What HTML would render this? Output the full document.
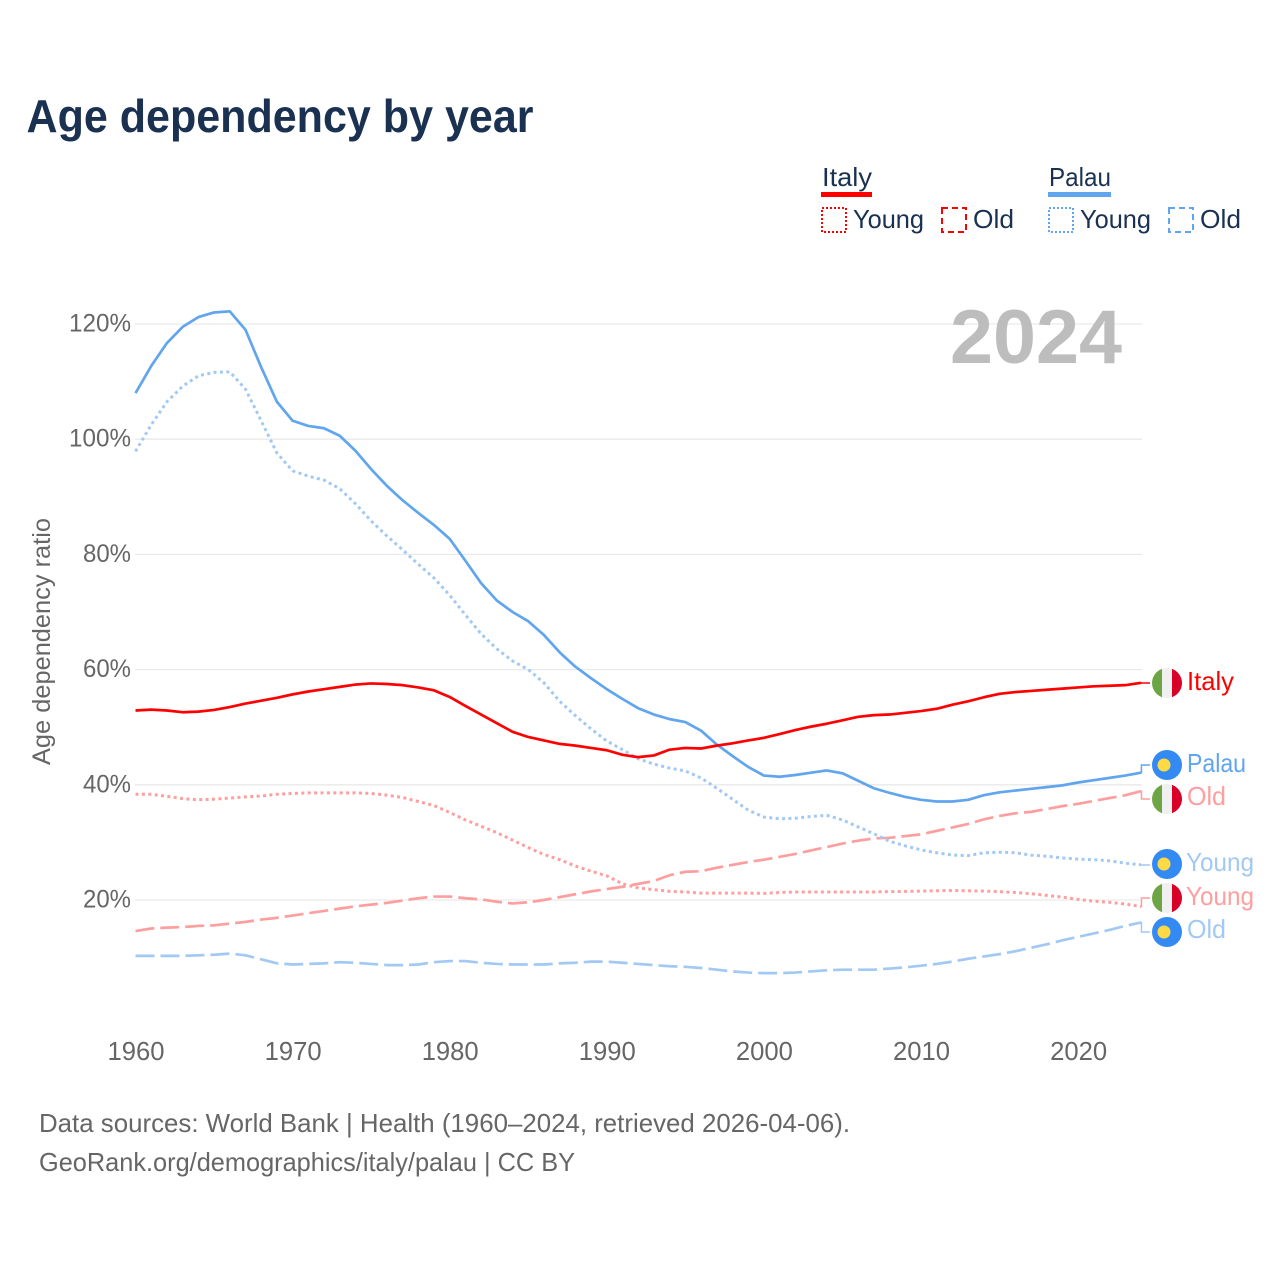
<!DOCTYPE html>
<html lang="en">
<head>
<meta charset="utf-8">
<title>Age dependency by year</title>
<style>
html,body{margin:0;padding:0;background:#fff;width:1280px;height:1280px;overflow:hidden}
svg{display:block}
text{font-family:"Liberation Sans",sans-serif}
</style>
</head>
<body>
<svg id="chart" xmlns="http://www.w3.org/2000/svg" width="1280" height="1280" viewBox="0 0 1280 1280">
  <rect x="0" y="0" width="1280" height="1280" fill="#fff"/>
  <text x="26.5" y="132" font-size="46" font-weight="700" fill="#1a3152" textLength="507" lengthAdjust="spacingAndGlyphs">Age dependency by year</text>

  <g font-size="26" fill="#1a3152">
    <text x="822" y="186" textLength="50" lengthAdjust="spacingAndGlyphs">Italy</text>
    <rect x="821" y="192" width="51" height="5" fill="#ff0000"/>
    <text x="1049" y="186" textLength="62" lengthAdjust="spacingAndGlyphs">Palau</text>
    <rect x="1048" y="192" width="63" height="5" fill="#60a5ee"/>

    <g>
      <rect x="822" y="208" width="24" height="24" fill="none" stroke="#ff0000" stroke-width="2" stroke-dasharray="2 2"/>
      <text x="853" y="228" textLength="71" lengthAdjust="spacingAndGlyphs">Young</text>
    </g>
    <g>
      <rect x="942" y="208" width="24" height="24" fill="none" stroke="#ff0000" stroke-width="2" stroke-dasharray="6 4"/>
      <text x="973" y="228" textLength="41" lengthAdjust="spacingAndGlyphs">Old</text>
    </g>
    <g>
      <rect x="1049" y="208" width="24" height="24" fill="none" stroke="#60a5ee" stroke-width="2" stroke-dasharray="2 2"/>
      <text x="1080" y="228" textLength="71" lengthAdjust="spacingAndGlyphs">Young</text>
    </g>
    <g>
      <rect x="1169" y="208" width="24" height="24" fill="none" stroke="#60a5ee" stroke-width="2" stroke-dasharray="6 4"/>
      <text x="1200" y="228" textLength="41" lengthAdjust="spacingAndGlyphs">Old</text>
    </g>
  </g>

  <g id="grid"></g>
  <g id="yticks"></g>
  <g id="xticks"></g>

  <text transform="translate(50,765) rotate(-90)" font-size="25" fill="#666" textLength="247" lengthAdjust="spacingAndGlyphs">Age dependency ratio</text>
  <text x="950" y="363" font-size="76" font-weight="700" fill="#bdbdbd" textLength="172" lengthAdjust="spacingAndGlyphs">2024</text>

  <g id="connectors"></g>
  <g id="series"></g>

  <g font-size="26">
    <g>
      <clipPath id="clip-a"><circle cx="1167" cy="683" r="15"/></clipPath>
      <g clip-path="url(#clip-a)">
        <rect x="1152" y="668" width="10" height="30" fill="#6da544"/><rect x="1162" y="668" width="10" height="30" fill="#f0f0f0"/><rect x="1172" y="668" width="10" height="30" fill="#d80027"/>
      </g>
      <text x="1187" y="690" fill="#ff0000" textLength="47" lengthAdjust="spacingAndGlyphs">Italy</text>
    </g>
    <g>
      <circle cx="1167" cy="765" r="15" fill="#338af3"/>
      <circle cx="1164" cy="765" r="6.5" fill="#ffda44"/>
      <text x="1187" y="772" fill="#60a5ee" textLength="59" lengthAdjust="spacingAndGlyphs">Palau</text>
    </g>
    <g>
      <clipPath id="clip-b"><circle cx="1167" cy="799" r="15"/></clipPath>
      <g clip-path="url(#clip-b)">
        <rect x="1152" y="784" width="10" height="30" fill="#6da544"/><rect x="1162" y="784" width="10" height="30" fill="#f0f0f0"/><rect x="1172" y="784" width="10" height="30" fill="#d80027"/>
      </g>
      <text x="1187" y="805" fill="#ff9e9e" textLength="39" lengthAdjust="spacingAndGlyphs">Old</text>
    </g>
    <g>
      <circle cx="1167" cy="864" r="15" fill="#338af3"/>
      <circle cx="1164" cy="864" r="6.5" fill="#ffda44"/>
      <text x="1186" y="871" fill="#a2c9f3" textLength="68" lengthAdjust="spacingAndGlyphs">Young</text>
    </g>
    <g>
      <clipPath id="clip-c"><circle cx="1167" cy="898" r="15"/></clipPath>
      <g clip-path="url(#clip-c)">
        <rect x="1152" y="883" width="10" height="30" fill="#6da544"/><rect x="1162" y="883" width="10" height="30" fill="#f0f0f0"/><rect x="1172" y="883" width="10" height="30" fill="#d80027"/>
      </g>
      <text x="1186" y="905" fill="#ff9e9e" textLength="68" lengthAdjust="spacingAndGlyphs">Young</text>
    </g>
    <g>
      <circle cx="1167" cy="932" r="15" fill="#338af3"/>
      <circle cx="1164" cy="932" r="6.5" fill="#ffda44"/>
      <text x="1187" y="938" fill="#a2c9f3" textLength="39" lengthAdjust="spacingAndGlyphs">Old</text>
    </g>
  </g>

  <g font-size="26" fill="#666">
    <text x="39" y="1132" textLength="811" lengthAdjust="spacingAndGlyphs">Data sources: World Bank | Health (1960–2024, retrieved 2026-04-06).</text>
    <text x="39" y="1171" textLength="536" lengthAdjust="spacingAndGlyphs">GeoRank.org/demographics/italy/palau | CC BY</text>
  </g>
</svg>
<script>
const startYear = 1960;
const xTickYears = [1960, 1970, 1980, 1990, 2000, 2010, 2020];
const yTickValues = [20, 40, 60, 80, 100, 120];

const palauTotal = [108.0,112.7,116.7,119.5,121.2,122.0,122.2,119.0,112.5,106.5,103.2,102.3,101.9,100.6,98.0,94.8,91.9,89.4,87.2,85.1,82.7,78.9,75.0,72.0,70.0,68.4,66.0,63.0,60.5,58.5,56.6,54.9,53.3,52.2,51.4,50.9,49.4,47.0,45.0,43.1,41.6,41.4,41.7,42.1,42.5,42.0,40.7,39.4,38.6,37.9,37.4,37.1,37.1,37.4,38.2,38.7,39.0,39.3,39.6,39.9,40.4,40.8,41.2,41.6,42.1];
const palauYoung = [97.9,102.5,106.5,109.2,111.0,111.6,111.7,108.7,103.2,97.6,94.5,93.6,92.9,91.4,88.8,85.8,83.2,80.8,78.3,75.9,72.9,69.5,66.2,63.6,61.5,60.0,57.7,54.5,52.0,49.7,47.6,46.1,44.5,43.6,42.9,42.4,41.2,39.4,37.5,35.6,34.4,34.1,34.2,34.5,34.7,33.9,32.7,31.5,30.2,29.4,28.7,28.2,27.8,27.7,28.2,28.3,28.2,27.8,27.6,27.3,27.1,27.0,26.8,26.4,26.1];
const palauOld = [10.3,10.3,10.3,10.3,10.4,10.5,10.7,10.4,9.7,9.0,8.8,8.9,9.0,9.2,9.1,8.9,8.7,8.7,8.8,9.2,9.4,9.4,9.1,8.9,8.8,8.8,8.8,9.0,9.1,9.3,9.3,9.1,8.9,8.7,8.5,8.4,8.2,7.9,7.6,7.4,7.3,7.3,7.4,7.6,7.8,7.9,7.9,7.9,8.1,8.3,8.6,8.9,9.3,9.8,10.2,10.6,11.1,11.7,12.3,13.0,13.6,14.2,14.8,15.5,16.1];
const italyTotal = [52.9,53.05,52.9,52.6,52.7,53.0,53.5,54.1,54.6,55.1,55.7,56.2,56.6,57.0,57.4,57.6,57.5,57.3,56.9,56.4,55.25,53.7,52.2,50.7,49.2,48.3,47.7,47.1,46.8,46.4,46.0,45.2,44.8,45.1,46.1,46.4,46.3,46.8,47.2,47.7,48.15,48.8,49.5,50.1,50.6,51.2,51.8,52.1,52.2,52.5,52.8,53.2,53.9,54.5,55.2,55.8,56.1,56.3,56.5,56.7,56.9,57.1,57.2,57.3,57.7];
const italyYoung = [38.35,38.35,38.0,37.6,37.4,37.5,37.7,37.9,38.05,38.35,38.5,38.6,38.6,38.6,38.6,38.5,38.2,37.8,37.1,36.4,35.2,33.9,32.8,31.7,30.4,29.1,27.9,27.0,25.9,25.0,24.2,22.8,22.1,21.8,21.5,21.4,21.2,21.2,21.2,21.2,21.15,21.3,21.4,21.4,21.4,21.4,21.4,21.4,21.45,21.5,21.55,21.6,21.65,21.6,21.55,21.45,21.3,21.1,20.8,20.5,20.1,19.8,19.6,19.3,18.85];
const italyOld = [14.6,15.05,15.2,15.3,15.5,15.6,15.9,16.2,16.6,16.9,17.3,17.7,18.1,18.5,18.9,19.2,19.5,19.9,20.3,20.6,20.6,20.3,20.1,19.7,19.4,19.6,20.0,20.5,21.0,21.5,21.9,22.3,22.8,23.3,24.3,24.9,25.0,25.6,26.1,26.6,27.0,27.5,28.0,28.6,29.2,29.8,30.3,30.7,30.8,31.1,31.4,32.0,32.6,33.2,34.0,34.6,35.05,35.3,35.8,36.3,36.7,37.2,37.7,38.2,38.9];

const SVGNS = 'http://www.w3.org/2000/svg';
function xScale(year) { return 135.5 + (year - 1960) * 15.71; }
function yScale(value) { return 1015.2 - value * 5.76; }
function make(tag, parentId) {
  const el = document.createElementNS(SVGNS, tag);
  document.getElementById(parentId).appendChild(el);
  return el;
}

yTickValues.forEach(function (v) {
  const line = make('line', 'grid');
  
  
  line.setAttribute('x1', 135);
  line.setAttribute('x2', 1142);
  line.setAttribute('y1', yScale(v));
  line.setAttribute('y2', yScale(v));
  line.setAttribute('stroke', '#eaeaea');
  line.setAttribute('stroke-width', 1.3);

  const label = make('text', 'yticks');
  
  
  label.setAttribute('x', 131);
  label.setAttribute('y', yScale(v) + 7.5);
  label.setAttribute('text-anchor', 'end');
  label.setAttribute('font-size', 25);
  label.setAttribute('fill', '#666');
  label.setAttribute('textLength', v >= 100 ? 62 : 48);
  label.setAttribute('lengthAdjust', 'spacingAndGlyphs');
  label.textContent = v + '%';
});

xTickYears.forEach(function (yr) {
  const label = make('text', 'xticks');
  
  
  label.setAttribute('x', xScale(yr) + 0.5);
  label.setAttribute('y', 1060);
  label.setAttribute('text-anchor', 'middle');
  label.setAttribute('font-size', 26);
  label.setAttribute('fill', '#666');
  label.setAttribute('textLength', 57);
  label.setAttribute('lengthAdjust', 'spacingAndGlyphs');
  label.textContent = String(yr);
});

function drawSeries(name, values, color, dash, labelY, width) {
  const d = values.map(function (v, i) {
    return (i ? 'L' : 'M') + xScale(startYear + i).toFixed(2) + ' ' + yScale(v).toFixed(2);
  }).join(' ');
  const path = make('path', 'series');
  
  
  path.setAttribute('d', d);
  path.setAttribute('fill', 'none');
  path.setAttribute('stroke', color);
  path.setAttribute('stroke-width', width);
  path.setAttribute('stroke-linejoin', 'round');
  if (dash) path.setAttribute('stroke-dasharray', dash);

  const endX = xScale(startYear + values.length - 1);
  const endY = yScale(values[values.length - 1]);
  const conn = make('path', 'connectors');
  
  
  conn.setAttribute('d', 'M' + endX + ' ' + endY + ' H' + (endX + 0.5) + ' V' + labelY + ' H1150');
  conn.setAttribute('fill', 'none');
  conn.setAttribute('stroke', color);
  conn.setAttribute('stroke-width', 1.5);
}

drawSeries('palau-old', palauOld, '#a2c9f3', '19 6', 932, 2.7);
drawSeries('italy-old', italyOld, '#ff9e9e', '19 6', 799, 2.7);
drawSeries('palau-young', palauYoung, '#a2c9f3', '3 3.4', 865, 3);
drawSeries('italy-young', italyYoung, '#ff9e9e', '3 3.4', 898, 3);
drawSeries('palau-total', palauTotal, '#60a5ee', '', 765, 2.7);
drawSeries('italy-total', italyTotal, '#ff0000', '', 683, 2.7);
</script>
</body>
</html>
